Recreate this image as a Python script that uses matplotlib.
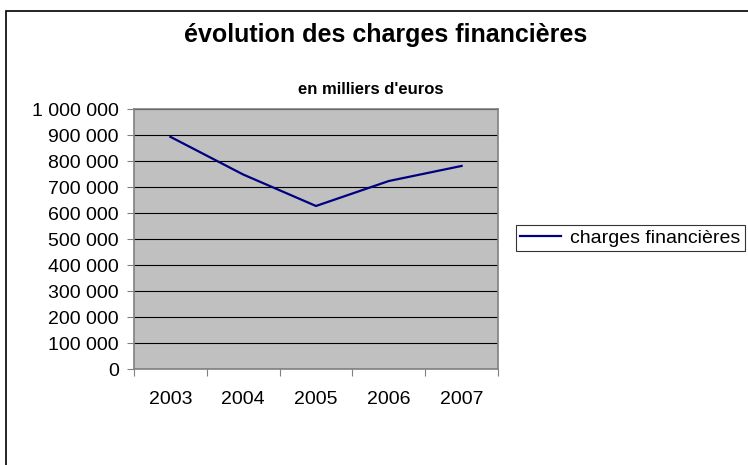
import matplotlib.pyplot as plt
from matplotlib.patches import Rectangle
from matplotlib.ticker import FuncFormatter

years = ['2003', '2004', '2005', '2006', '2007']
charges = [893000, 748000, 627000, 723000, 781000]

plt.rcParams['font.family'] = ['Liberation Sans', 'DejaVu Sans']

W, H = 748, 465
fig = plt.figure(figsize=(W / 100, H / 100), dpi=100)

# outer frame of the chart (runs off the right and bottom edges)
fig.patches.append(Rectangle((6 / W, -0.05), 1.1, (H - 10.5) / H + 0.05,
                             transform=fig.transFigure, fill=False,
                             edgecolor='black', linewidth=1.2))

ax = fig.add_axes([134 / W, (H - 369) / H, (498 - 134) / W, (369 - 109) / H])
ax.set_facecolor('#c0c0c0')

x = list(range(len(years)))
ax.plot(x, charges, color='#000080', linewidth=1.6, label='charges financières')

ax.set_xlim(-0.5, len(years) - 0.5)
ax.set_ylim(0, 1000000)
ax.set_yticks(range(0, 1000001, 100000))
ax.yaxis.set_major_formatter(FuncFormatter(lambda v, p: f'{int(v):,}'.replace(',', ' ')))
ax.set_xticks([i - 0.5 for i in range(len(years) + 1)])
ax.set_xticklabels([])
ax.set_xticks(x, minor=True)
ax.set_xticklabels(years, minor=True)
ax.tick_params(axis='x', which='minor', length=0, pad=16, labelsize=14)
ax.tick_params(axis='x', which='major', length=5, direction='out', color='#808080')
ax.tick_params(axis='y', length=5, direction='out', color='#808080', labelsize=14, pad=6)

ax.grid(axis='y', color='black', linewidth=0.8)
ax.set_axisbelow(True)
for s in ax.spines.values():
    s.set_color('#808080')
    s.set_linewidth(1.2)

fig.text(386 / W, (H - 35) / H, 'évolution des charges financières', ha='center', va='center',
         fontsize=18, fontweight='bold')
fig.text(371 / W, (H - 89) / H, "en milliers d'euros", ha='center', va='center',
         fontsize=12, fontweight='bold')

leg = fig.legend(loc='center left', bbox_to_anchor=(516 / W, (H - 238) / H),
                 fontsize=14, frameon=True, fancybox=False, edgecolor='black',
                 handlelength=2.1, handletextpad=0.5, borderpad=0.2, borderaxespad=0)
leg.get_frame().set_linewidth(0.8)

fig.savefig('out.png', dpi=100)
